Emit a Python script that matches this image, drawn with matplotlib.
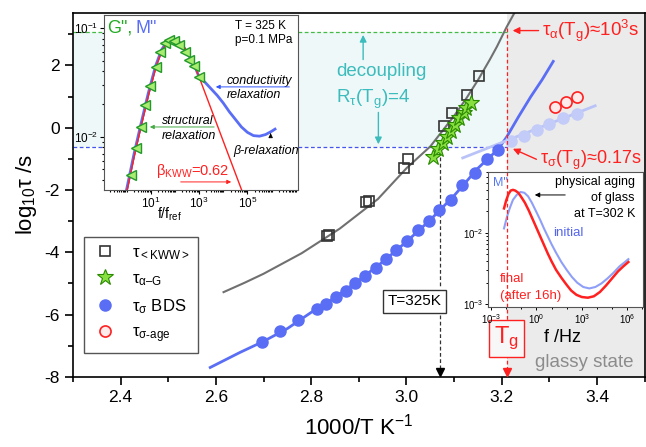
import matplotlib
matplotlib.use('Agg')
import matplotlib.pyplot as plt
import numpy as np
from matplotlib.ticker import MultipleLocator, LogLocator, NullFormatter
from matplotlib.transforms import blended_transform_factory

plt.rcParams['font.family'] = ['Liberation Sans', 'DejaVu Sans']
plt.rcParams['mathtext.fontset'] = 'custom'
plt.rcParams['mathtext.rm'] = 'Liberation Sans'
plt.rcParams['mathtext.it'] = 'Liberation Sans:italic'
plt.rcParams['axes.unicode_minus'] = False

# --- main panel data (1000/T, log10 tau) ---
kww_x = [2.833, 2.837, 2.916, 2.921, 2.994, 3.004, 3.078, 3.095, 3.126, 3.152]
kww_y = [-3.48, -3.43, -2.40, -2.35, -1.30, -1.02, 0.06, 0.46, 1.06, 1.65]

kww_fit_x = [2.616, 2.66, 2.70, 2.78, 2.86, 2.94, 3.00, 3.05, 3.10, 3.125, 3.15, 3.175, 3.19, 3.21, 3.227]
kww_fit_y = [-5.28, -4.98, -4.69, -4.03, -3.24, -2.29, -1.30, -0.60, 0.38, 0.93, 1.53, 2.19, 2.61, 3.23, 3.70]

star_x = [3.056, 3.066, 3.076, 3.085, 3.094, 3.102, 3.111, 3.120, 3.125, 3.136]
star_y = [-0.95, -0.68, -0.49, -0.31, -0.10, 0.10, 0.31, 0.47, 0.63, 0.79]

bds_x = [2.697, 2.734, 2.772, 2.812, 2.831, 2.851, 2.872, 2.892, 2.913, 2.935, 2.956,
         2.978, 3.002, 3.024, 3.047, 3.069, 3.094, 3.117, 3.143, 3.168, 3.193]
bds_y = [-6.88, -6.53, -6.19, -5.83, -5.67, -5.43, -5.25, -4.98, -4.77, -4.50, -4.23,
         -3.93, -3.64, -3.30, -3.00, -2.63, -2.31, -1.83, -1.45, -1.00, -0.70]

bds_fit_x = [2.588, 2.65, 2.70, 2.75, 2.80, 2.85, 2.90, 2.95, 3.00, 3.05, 3.10, 3.15,
             3.193, 3.211, 3.235, 3.261, 3.285, 3.308]
bds_fit_y = [-7.70, -7.22, -6.86, -6.45, -5.93, -5.45, -4.90, -4.31, -3.66, -2.96, -2.18,
             -1.30, -0.68, -0.28, 0.35, 1.00, 1.55, 2.13]

glass_x = [3.219, 3.247, 3.273, 3.300, 3.328, 3.357]
glass_y = [-0.44, -0.25, -0.06, 0.13, 0.31, 0.45]
glass_fit_x = [3.118, 3.396]
glass_fit_y = [-0.97, 0.705]

age_x = [3.311, 3.334, 3.357]
age_y = [0.66, 0.84, 1.00]

Tg_x = 3.21
T325_x = 3.07
tau_alpha_Tg = 3.07
tau_sigma_Tg = -0.62

# --- inset 1: G'', M'' at 325 K (log f/fref, log value) ---
tri_lf = [0.17, 0.39, 0.59, 0.76, 0.97, 1.21, 1.38, 1.59, 1.76, 1.96, 2.17, 2.42, 2.60, 2.80, 3.00]
tri_ly = [-2.35, -2.10, -1.91, -1.71, -1.53, -1.355, -1.22, -1.14, -1.11, -1.12, -1.16,
          -1.22, -1.29, -1.35, -1.45]
mod_lf = [0.0, 0.3, 0.6, 0.9, 1.2, 1.45, 1.6, 1.75, 1.9, 2.05, 2.2, 2.4, 2.6, 2.8, 3.0,
          3.25, 3.5, 3.75, 4.0, 4.25, 4.5, 4.75, 5.0, 5.25, 5.5, 5.75, 6.0, 6.14]
mod_ly = [-2.49, -2.17, -1.88, -1.60, -1.35, -1.20, -1.15, -1.115, -1.10, -1.11, -1.135,
          -1.19, -1.26, -1.34, -1.45, -1.50, -1.56, -1.62, -1.69, -1.77, -1.84, -1.91,
          -1.96, -1.99, -1.995, -1.98, -1.95, -1.93]
kwwf_lf = [0.03, 0.33, 0.63, 0.93, 1.23, 1.48, 1.63, 1.78, 1.93, 2.08, 2.23, 2.43, 2.62,
           2.81, 3.0, 4.76]
kwwf_ly = [-2.49, -2.17, -1.88, -1.60, -1.35, -1.20, -1.15, -1.115, -1.10, -1.11, -1.135,
           -1.19, -1.26, -1.34, -1.45, -2.49]

# --- inset 2: aging at 302 K (log f/Hz, log M'') ---
fin_lf = [-2.14, -2.0, -1.85, -1.7, -1.55, -1.4, -1.2, -1.0, -0.76, -0.5, -0.25, 0.0, 0.25,
          0.5, 0.75, 1.0, 1.3, 1.65, 2.0, 2.3, 2.65, 3.0, 3.4, 3.8, 4.2, 4.6, 5.0, 5.4, 5.75, 6.08]
fin_ly = [-1.66, -1.55, -1.46, -1.41, -1.40, -1.41, -1.44, -1.50, -1.58, -1.69, -1.81,
          -1.93, -2.05, -2.17, -2.29, -2.40, -2.52, -2.63, -2.73, -2.81, -2.87, -2.90,
          -2.91, -2.89, -2.83, -2.74, -2.64, -2.54, -2.47, -2.41]
ini_lf = [-2.14, -1.95, -1.75, -1.55, -1.3, -1.05, -0.8, -0.55, -0.3, 0.0, 0.25, 0.5, 0.75,
          1.0, 1.3, 1.65, 2.0, 2.35, 2.7, 3.1, 3.5, 3.9, 4.3, 4.7, 5.1, 5.5, 5.8, 6.08]
ini_ly = [-1.94, -1.78, -1.65, -1.54, -1.47, -1.43, -1.44, -1.49, -1.58, -1.71, -1.82,
          -1.94, -2.05, -2.16, -2.28, -2.41, -2.52, -2.62, -2.70, -2.76, -2.78, -2.76,
          -2.71, -2.64, -2.56, -2.47, -2.42, -2.37]

BLUE = '#5a6ef5'
LBLUE = '#b9c3f8'
TEAL = '#3cbcbc'
RED = '#ff2020'

fig = plt.figure(figsize=(6.46, 4.47), dpi=100)
ax = fig.add_axes([0.113, 0.157, 0.885, 0.815])
ax.set_xlim(2.3, 3.5)
ax.set_ylim(-8, 3.7)

ax.axvspan(Tg_x, 3.5, color='#ebebeb', zorder=0, lw=0)
ax.fill_between([2.3, Tg_x], tau_sigma_Tg, tau_alpha_Tg, color='#eef8f8', zorder=0, lw=0)
ax.plot([2.3, Tg_x], [tau_alpha_Tg] * 2, ls=(0, (3, 2)), color='#44bb44', lw=0.9, zorder=1)
ax.plot([2.3, Tg_x], [tau_sigma_Tg] * 2, ls=(0, (3, 2)), color='#4455ee', lw=0.9, zorder=1)

# fits and data
ax.plot(kww_fit_x, kww_fit_y, color='#707070', lw=1.5, zorder=2)
ax.plot(bds_fit_x, bds_fit_y, color=BLUE, lw=2, zorder=2)
ax.plot(glass_fit_x, glass_fit_y, color=LBLUE, lw=2, zorder=2)
ax.plot(glass_x, glass_y, 'o', color='#c3cbf8', ms=8, zorder=3)
h1, = ax.plot(kww_x, kww_y, 's', mfc='none', mec='#333333', mew=1.2, ms=7.5, zorder=4,
              label='τ$_{\\mathrm{<KWW>}}$')
h2, = ax.plot(star_x, star_y, '*', mfc='#88e040', mec='#2a8a00', mew=0.8, ms=12, zorder=5,
              label='τ$_{\\mathrm{α\u2013G}}$')
h3, = ax.plot(bds_x, bds_y, 'o', color=BLUE, ms=8, zorder=4, label='τ$_{\\mathrm{σ}}$ BDS')
h4, = ax.plot(age_x, age_y, 'o', mfc='#fdeaea', mec=RED, mew=1.2, ms=8, zorder=4,
              label='τ$_{\\mathrm{σ\u2011age}}$')

# Tg line, T=325K line
ax.plot([Tg_x, Tg_x], [3.2, -6.25], ls=(0, (3, 2)), color=RED, lw=0.9, zorder=3)
ax.plot([Tg_x, Tg_x], [-7.28, -7.8], ls=(0, (3, 2)), color=RED, lw=0.9, zorder=3)
ax.plot([Tg_x], [-7.85], 'v', color=RED, ms=6, zorder=3, clip_on=False)
ax.text(Tg_x, -6.76, 'T$_{\\mathrm{g}}$', color=RED, fontsize=17, ha='center', va='center',
        bbox=dict(boxstyle='square,pad=0.2', fc='#f7f7f7', ec=RED, lw=1))
ax.plot([T325_x, T325_x], [-0.93, -5.13], ls=(0, (3, 2)), color='#333333', lw=0.9, zorder=3)
ax.plot([T325_x, T325_x], [-6.0, -7.8], ls=(0, (3, 2)), color='#333333', lw=0.9, zorder=3)
ax.plot([T325_x], [-7.85], 'v', color='black', ms=6, zorder=3, clip_on=False)
ax.text(3.016, -5.58, 'T=325K', fontsize=11, ha='center', va='center',
        bbox=dict(boxstyle='square,pad=0.3', fc='white', ec='#333333', lw=1))

# decoupling annotation
ax.annotate('', xy=(2.909, tau_alpha_Tg), xytext=(2.909, 2.1),
            arrowprops=dict(arrowstyle='-|>', color=TEAL, lw=1, mutation_scale=10))
ax.annotate('', xy=(2.941, tau_sigma_Tg), xytext=(2.941, 0.58),
            arrowprops=dict(arrowstyle='-|>', color=TEAL, lw=1, mutation_scale=10))
ax.text(2.853, 1.79, 'decoupling', color=TEAL, fontsize=13.5, va='center')
ax.text(2.853, 0.92, 'R$_{\\mathrm{τ}}$(T$_{\\mathrm{g}}$)=4', color=TEAL, fontsize=13.5, va='center')

# red labels
ax.annotate('', xy=(3.217, 3.12), xytext=(3.283, 3.12),
            arrowprops=dict(arrowstyle='-|>', color=RED, lw=1, mutation_scale=10))
ax.text(3.285, 3.12, 'τ$_{\\mathrm{α}}$(T$_{\\mathrm{g}}$)≈10$^{3}$s', color=RED, fontsize=13.5,
        va='center')
ax.annotate('', xy=(3.218, -0.64), xytext=(3.278, -1.05),
            arrowprops=dict(arrowstyle='-|>', color=RED, lw=1, mutation_scale=10))
ax.text(3.28, -1.05, 'τ$_{\\mathrm{σ}}$(T$_{\\mathrm{g}}$)≈0.17s', color=RED, fontsize=13,
        va='center')

ax.text(3.374, -7.53, 'glassy state', color='#8c8c8c', fontsize=13.5, ha='center', va='center')
ax.text(3.327, -6.73, 'f /Hz', fontsize=13, ha='center', va='center')
ax.text(2.502, -2.79, 'f/f$_{\\mathrm{ref}}$', fontsize=10, ha='center', va='center')

ax.legend(handles=[h1, h2, h3, h4], loc='upper left', bbox_to_anchor=(0.019, 0.384),
          fontsize=12, frameon=True, fancybox=False, edgecolor='#555555', framealpha=1,
          labelspacing=0.55, handletextpad=0.9, borderpad=0.5, handlelength=1.5,
          borderaxespad=0)

ax.xaxis.set_major_locator(MultipleLocator(0.2))
ax.xaxis.set_minor_locator(MultipleLocator(0.1))
ax.yaxis.set_major_locator(MultipleLocator(2))
ax.yaxis.set_minor_locator(MultipleLocator(1))
ax.tick_params(which='both', direction='out', labelsize=12.5, width=1.2)
ax.tick_params(which='major', length=6)
ax.tick_params(which='minor', length=3.5)
for s in ax.spines.values():
    s.set_linewidth(1.2)
ax.set_xlabel('1000/T K$^{-1}$', fontsize=16, labelpad=6)
ax.set_ylabel('log$_{10}$τ /s', fontsize=16, labelpad=4)

# --- inset 1 ---
ax1 = fig.add_axes([0.161, 0.575, 0.3003, 0.3915])
ax1.set_xscale('log')
ax1.set_yscale('log')
ax1.plot(10 ** np.array(kwwf_lf), 10 ** np.array(kwwf_ly), color=RED, lw=1)
ax1.plot(10 ** np.array(mod_lf), 10 ** np.array(mod_ly), color=BLUE, lw=2, zorder=2)
ax1.plot(10 ** np.array(kwwf_lf[:15]), 10 ** np.array(kwwf_ly[:15]), color=RED, lw=1, zorder=3)
ax1.plot(10 ** np.array(tri_lf), 10 ** np.array(tri_ly), '<', mfc='#a8ec70', mec='#22992a',
         mew=1, ms=7, zorder=4)
ax1.set_xlim(10 ** -0.93, 10 ** 7.09)
ax1.set_ylim(10 ** -2.49, 10 ** -0.88)
ax1.set_xticks([1e1, 1e3, 1e5])
ax1.xaxis.set_minor_locator(LogLocator(base=10, subs=np.arange(1, 10), numticks=30))
ax1.xaxis.set_minor_formatter(NullFormatter())
ax1.set_yticks([1e-2, 1e-1])
ax1.yaxis.set_minor_locator(LogLocator(base=10, subs=np.arange(2, 10), numticks=30))
ax1.yaxis.set_minor_formatter(NullFormatter())
ax1.tick_params(which='both', direction='out', labelsize=8.5, pad=1, width=0.8)
ax1.tick_params(which='major', length=3)
ax1.tick_params(which='minor', length=1.5)
for s in ax1.spines.values():
    s.set_color('#555555')
ax1.text(0.015, 0.925, 'G",', color='#22aa22', fontsize=13, transform=ax1.transAxes, va='center')
ax1.text(0.16, 0.925, 'M"', color=BLUE, fontsize=13, transform=ax1.transAxes, va='center')
ax1.text(0.675, 0.939, 'T = 325 K', fontsize=8.5, transform=ax1.transAxes, va='center')
ax1.text(0.675, 0.857, 'p=0.1 MPa', fontsize=8.5, transform=ax1.transAxes, va='center')
ax1.text(0.634, 0.625, 'conductivity', fontsize=9, style='italic', transform=ax1.transAxes, va='center')
ax1.text(0.634, 0.54, 'relaxation', fontsize=9, style='italic', transform=ax1.transAxes, va='center')
ax1.annotate('', xy=(0.562, 0.589), xytext=(0.97, 0.589), xycoords='axes fraction',
             arrowprops=dict(arrowstyle='-|>', color='#3355ff', lw=0.7, mutation_scale=6))
ax1.text(0.297, 0.396, 'structural', fontsize=9, style='italic', transform=ax1.transAxes, va='center')
ax1.text(0.297, 0.31, 'relaxation', fontsize=9, style='italic', transform=ax1.transAxes, va='center')
ax1.annotate('', xy=(0.222, 0.36), xytext=(0.582, 0.36), xycoords='axes fraction',
             arrowprops=dict(arrowstyle='-|>', color='#44aa44', lw=0.7, mutation_scale=6))
ax1.text(0.665, 0.223, 'β-relaxation', fontsize=9, style='italic', transform=ax1.transAxes, va='center')
ax1.annotate('', xy=(0.859, 0.34), xytext=(0.859, 0.30), xycoords='axes fraction',
             arrowprops=dict(arrowstyle='-|>', color='black', lw=0.7, mutation_scale=6))
ax1.text(0.27, 0.109, 'β$_{\\mathrm{KWW}}$=0.62', color=RED, fontsize=10.5,
         transform=ax1.transAxes, va='center')
ax1.annotate('', xy=(0.67, 0.046), xytext=(0.381, 0.046), xycoords='axes fraction',
             arrowprops=dict(arrowstyle='-|>', color=RED, lw=0.7, mutation_scale=6))

# --- inset 2 ---
ax2 = fig.add_axes([0.7554, 0.3132, 0.240, 0.302])
ax2.set_xscale('log')
ax2.set_yscale('log')
ax2.plot(10 ** np.array(ini_lf), 10 ** np.array(ini_ly), color='#8f9ff8', lw=1.5)
ax2.plot(10 ** np.array(fin_lf), 10 ** np.array(fin_ly), color=RED, lw=1.8)
ax2.set_xlim(10 ** -3.2, 10 ** 7.05)
ax2.set_ylim(10 ** -3.04, 10 ** -1.15)
ax2.set_xticks([1e-3, 1e0, 1e3, 1e6])
ax2.xaxis.set_minor_locator(LogLocator(base=10, subs=[1.0], numticks=30))
ax2.xaxis.set_minor_formatter(NullFormatter())
ax2.set_yticks([1e-3, 1e-2])
ax2.yaxis.set_minor_locator(LogLocator(base=10, subs=np.arange(2, 10), numticks=30))
ax2.yaxis.set_minor_formatter(NullFormatter())
ax2.tick_params(which='both', direction='out', labelsize=7, pad=1, width=0.7)
ax2.tick_params(which='major', length=2.5)
ax2.tick_params(which='minor', length=1.5)
for s in ax2.spines.values():
    s.set_color('#555555')
tr = blended_transform_factory(ax.transData, ax2.transAxes)
ax2.plot([Tg_x, Tg_x], [0, 1], ls=(0, (3, 2)), color=RED, lw=0.9, transform=tr, clip_on=False)
ax2.text(0.03, 0.92, 'M"', color='#5577ee', fontsize=9, transform=ax2.transAxes, va='center')
ax2.text(0.948, 0.926, 'physical aging', fontsize=9, ha='right', va='center', transform=ax2.transAxes)
ax2.text(0.948, 0.807, 'of glass', fontsize=9, ha='right', va='center', transform=ax2.transAxes)
ax2.text(0.948, 0.689, 'at T=302 K', fontsize=9, ha='right', va='center', transform=ax2.transAxes)
ax2.annotate('', xy=(0.284, 0.83), xytext=(0.516, 0.83), xycoords='axes fraction',
             arrowprops=dict(arrowstyle='-|>', color='black', lw=0.7, mutation_scale=7))
ax2.text(0.42, 0.548, 'initial', color='#5566ee', fontsize=9.5, va='center', transform=ax2.transAxes)
ax2.text(0.077, 0.207, 'final', color=RED, fontsize=9.5, va='center', transform=ax2.transAxes)
ax2.text(0.077, 0.081, '(after 16h)', color=RED, fontsize=9.5, va='center', transform=ax2.transAxes)

fig.savefig('out.png', dpi=100)
